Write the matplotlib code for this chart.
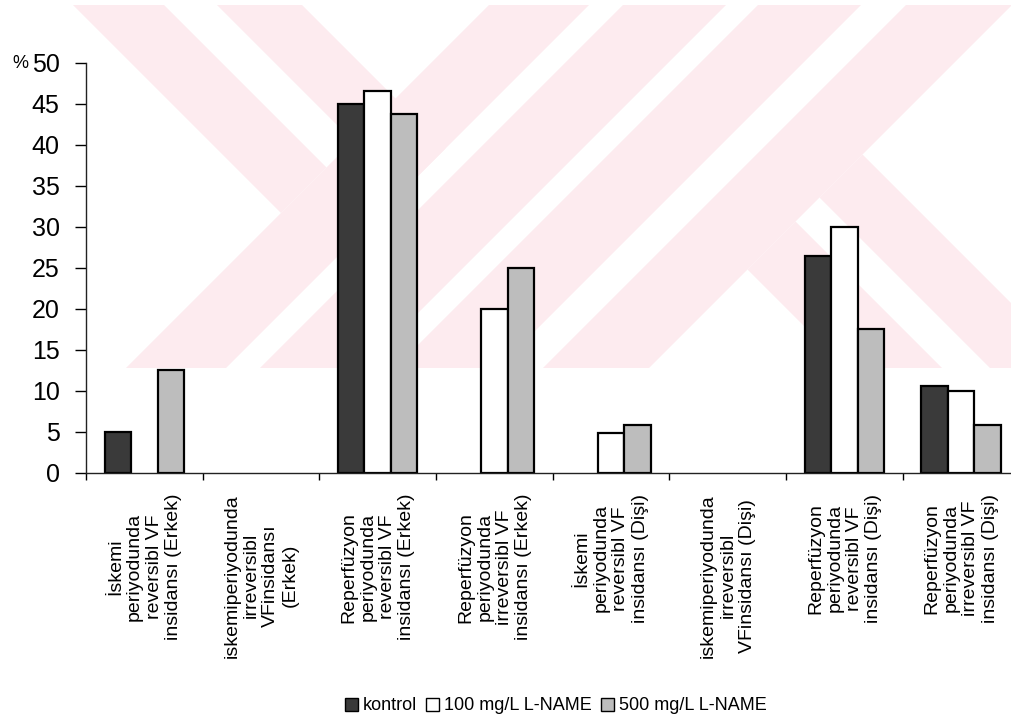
import matplotlib
matplotlib.use('Agg')
import matplotlib.pyplot as plt
import numpy as np
from matplotlib.patches import Polygon, Patch

plt.rcParams['font.family'] = ['Liberation Sans', 'DejaVu Sans']

categories = [
    "İskemi\nperiyodunda\nreversibl VF\ninsidansı (Erkek)",
    "iskemiperiyodunda\nirreversibl\nVFinsidansı\n(Erkek)",
    "Reperfüzyon\nperiyodunda\nreversibl VF\ninsidansı (Erkek)",
    "Reperfüzyon\nperiyodunda\nirreversibl VF\ninsidansı (Erkek)",
    "İskemi\nperiyodunda\nreversibl VF\ninsidansı (Dişi)",
    "iskemiperiyodunda\nirreversibl\nVFinsidansı (Dişi)",
    "Reperfüzyon\nperiyodunda\nreversibl VF\ninsidansı (Dişi)",
    "Reperfüzyon\nperiyodunda\nirreversibl VF\ninsidansı (Dişi)",
]
kontrol = [5, 0, 45, 0, 0, 0, 26.4, 10.6]
lname_100 = [0, 0, 46.6, 20, 4.9, 0, 30, 10]
lname_500 = [12.5, 0, 43.8, 25, 5.9, 0, 17.6, 5.9]
series_names = ["kontrol", "100 mg/L L-NAME", "500 mg/L L-NAME"]
yticks = list(range(0, 51, 5))

W, H = 1012, 719
fig = plt.figure(figsize=(W / 100, H / 100), dpi=100)

# pink watermark in the background (pixel coords, y down)
bg = fig.add_axes([0, 0, 1, 1], zorder=0)
bg.set_xlim(0, W)
bg.set_ylim(H, 0)
bg.axis('off')
pink = '#fdebef'
y0, y1 = 5, 368
for a, b in [(494, 594), (628, 731), (763, 866), (911, 1017)]:
    bg.add_patch(Polygon([(a - y0, y0), (b - y0, y0), (b - y1, y1), (a - y1, y1)],
                         closed=True, facecolor=pink, edgecolor='none'))
for pts in [
    [(73, 5), (164, 5), (326.5, 167.5), (281, 213)],
    [(217, 5), (302, 5), (445.5, 148.5), (403, 191)],
    [(747.5, 269.5), (795.5, 221.5), (942, 368), (846, 368)],
    [(819.5, 197.5), (862.5, 154.5), (1076, 368), (990, 368)],
]:
    bg.add_patch(Polygon(pts, closed=True, facecolor=pink, edgecolor='none'))

# main chart axes (right end runs past the picture edge, as in the scan)
left, right = 86, 1019.5
top, bottom = 62.7, 473
ax = fig.add_axes([left / W, 1 - bottom / H, (right - left) / W, (bottom - top) / H], zorder=1)
ax.patch.set_alpha(0)

n = len(categories)
x = np.arange(n)
bw = 0.227
colors = ['#3a3a3a', 'white', '#bdbdbd']
for i, (vals, c) in enumerate(zip([kontrol, lname_100, lname_500], colors)):
    vals = np.array(vals)
    lw = np.where(vals > 0, 1.6, 0)
    ax.bar(x + (i - 1) * bw, vals, bw, color=c, edgecolor='black', linewidth=lw,
           label=series_names[i], zorder=2)

ax.set_xlim(-0.5, n - 0.5)
ax.set_ylim(0, 50)
ax.set_yticks(yticks)
ax.tick_params(axis='y', labelsize=18, length=8, width=1, pad=11, direction='out')
ax.set_xticks(x)
ax.set_xticklabels(categories, rotation=90, ha='center', va='top',
                   multialignment='center', fontsize=14, linespacing=1.18)
ax.tick_params(axis='x', which='major', length=0, pad=15)
ax.set_xticks(np.arange(-0.5, n, 1.0), minor=True)
ax.tick_params(axis='x', which='minor', length=5, width=1, direction='out')
for s in ['top', 'right']:
    ax.spines[s].set_visible(False)
for s in ['left', 'bottom']:
    ax.spines[s].set_linewidth(1)
    ax.spines[s].set_color('#222222')

fig.text(20 / W, 1 - 64 / H, '%', fontsize=13, ha='center', va='center')

handles = [Patch(facecolor=c, edgecolor='black', linewidth=1) for c in colors]
fig.legend(handles, series_names, loc='center', bbox_to_anchor=(556 / W, 1 - 706 / H),
           ncol=3, frameon=False, fontsize=13, handlelength=0.7, handleheight=0.7,
           handletextpad=0.3, columnspacing=0.5)

fig.savefig('out.png', dpi=100)
